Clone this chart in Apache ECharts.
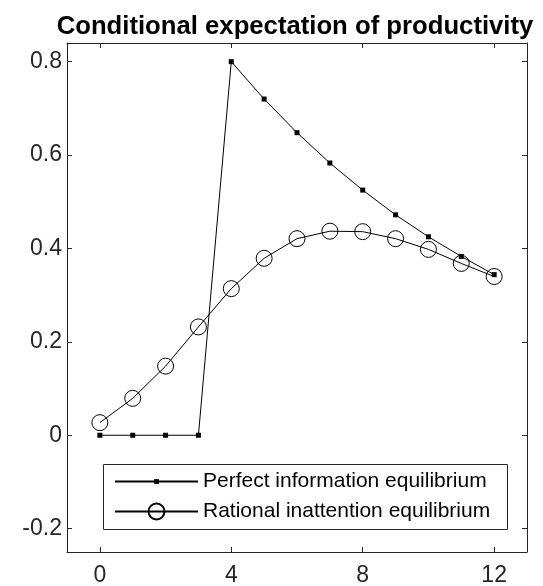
<!DOCTYPE html>
<html>
<head>
<meta charset="utf-8">
<title>Conditional expectation of productivity</title>
<script src="https://cdn.jsdelivr.net/npm/echarts@6/dist/echarts.min.js"></script>
<style>
  html, body { margin: 0; padding: 0; background: #fff; }
  #chart { width: 543px; height: 586px; }
</style>
</head>
<body>
<div id="chart"></div>
<script>
// data
const periods = [0, 1, 2, 3, 4, 5, 6, 7, 8, 9, 10, 11, 12]
const perfectInfo = [0, 0, 0, 0, 0.8, 0.72, 0.648, 0.583, 0.525, 0.472, 0.425, 0.383, 0.344]
const rationalInattention = [0.027, 0.079, 0.148, 0.232, 0.314, 0.379, 0.421, 0.437, 0.436, 0.421, 0.398, 0.368, 0.340]
const xTicks = [0, 4, 8, 12]
const yTicks = [-0.2, 0, 0.2, 0.4, 0.6, 0.8]

const names = ['Perfect information equilibrium', 'Rational inattention equilibrium']
const axisColor = '#262626'
const font = 'Arial, "Liberation Sans", Helvetica, sans-serif'

const chart = echarts.init(document.getElementById('chart'), null, { renderer: 'canvas' })

function xAxisDef(pos, showLabel) {
  return {
    type: 'value',
    position: pos,
    min: -1,
    max: 13,
    splitLine: { show: false },
    axisLine: { show: true, onZero: false, lineStyle: { color: axisColor, width: 1 } },
    axisTick: { show: true, inside: true, length: 5, customValues: xTicks, lineStyle: { color: axisColor } },
    axisLabel: {
      show: showLabel,
      customValues: xTicks,
      margin: 12,
      color: axisColor,
      fontSize: 23,
      fontFamily: font
    }
  }
}

function yAxisDef(pos, showLabel) {
  return {
    type: 'value',
    position: pos,
    min: -0.25,
    max: 0.84,
    splitLine: { show: false },
    axisLine: { show: true, onZero: false, lineStyle: { color: axisColor, width: 1 } },
    axisTick: { show: true, inside: true, length: 5, customValues: yTicks, lineStyle: { color: axisColor } },
    axisLabel: {
      show: showLabel,
      customValues: yTicks,
      margin: 5,
      color: axisColor,
      fontSize: 23,
      fontFamily: font,
      formatter: v => (Math.abs(v) < 1e-9 ? '0' : v.toFixed(1))
    }
  }
}

chart.setOption({
  animation: false,
  backgroundColor: '#fff',
  title: {
    text: 'Conditional expectation of productivity',
    left: 290,
    textAlign: 'center',
    top: 9,
    textStyle: { fontSize: 25.7, fontWeight: 'bold', color: '#000', fontFamily: font }
  },
  grid: {
    left: 67,
    right: 16,
    top: 43,
    bottom: 34,
    outerBoundsMode: 'none'
  },
  xAxis: [xAxisDef('bottom', true), xAxisDef('top', false)],
  yAxis: [yAxisDef('left', true), yAxisDef('right', false)],
  legend: [
    {
      data: [names[0]],
      left: 114,
      top: 471,
      padding: 0,
      itemWidth: 83,
      itemHeight: 6,
      textStyle: { fontSize: 21, color: '#000', fontFamily: font }
    },
    {
      data: [names[1]],
      left: 114,
      top: 501,
      padding: 0,
      itemWidth: 83,
      itemHeight: 20,
      textStyle: { fontSize: 21, color: '#000', fontFamily: font }
    }
  ],
  graphic: [
    {
      type: 'rect',
      z: 3,
      shape: { x: 103.5, y: 464.5, width: 404, height: 65 },
      style: { fill: '#fff', stroke: axisColor, lineWidth: 1 }
    }
  ],
  series: [
    {
      name: names[0],
      type: 'line',
      data: periods.map((t, i) => [t, perfectInfo[i]]),
      symbol: 'rect',
      symbolSize: 5,
      showAllSymbol: true,
      itemStyle: { color: '#000' },
      lineStyle: { color: '#000', width: 1 },
      silent: true
    },
    {
      name: names[1],
      type: 'line',
      data: periods.map((t, i) => [t, rationalInattention[i]]),
      symbol: 'circle',
      symbolSize: 16,
      showAllSymbol: true,
      itemStyle: { color: 'transparent', borderColor: '#000', borderWidth: 1 },
      lineStyle: { color: '#000', width: 1 },
      silent: true
    }
  ]
})
</script>
</body>
</html>
